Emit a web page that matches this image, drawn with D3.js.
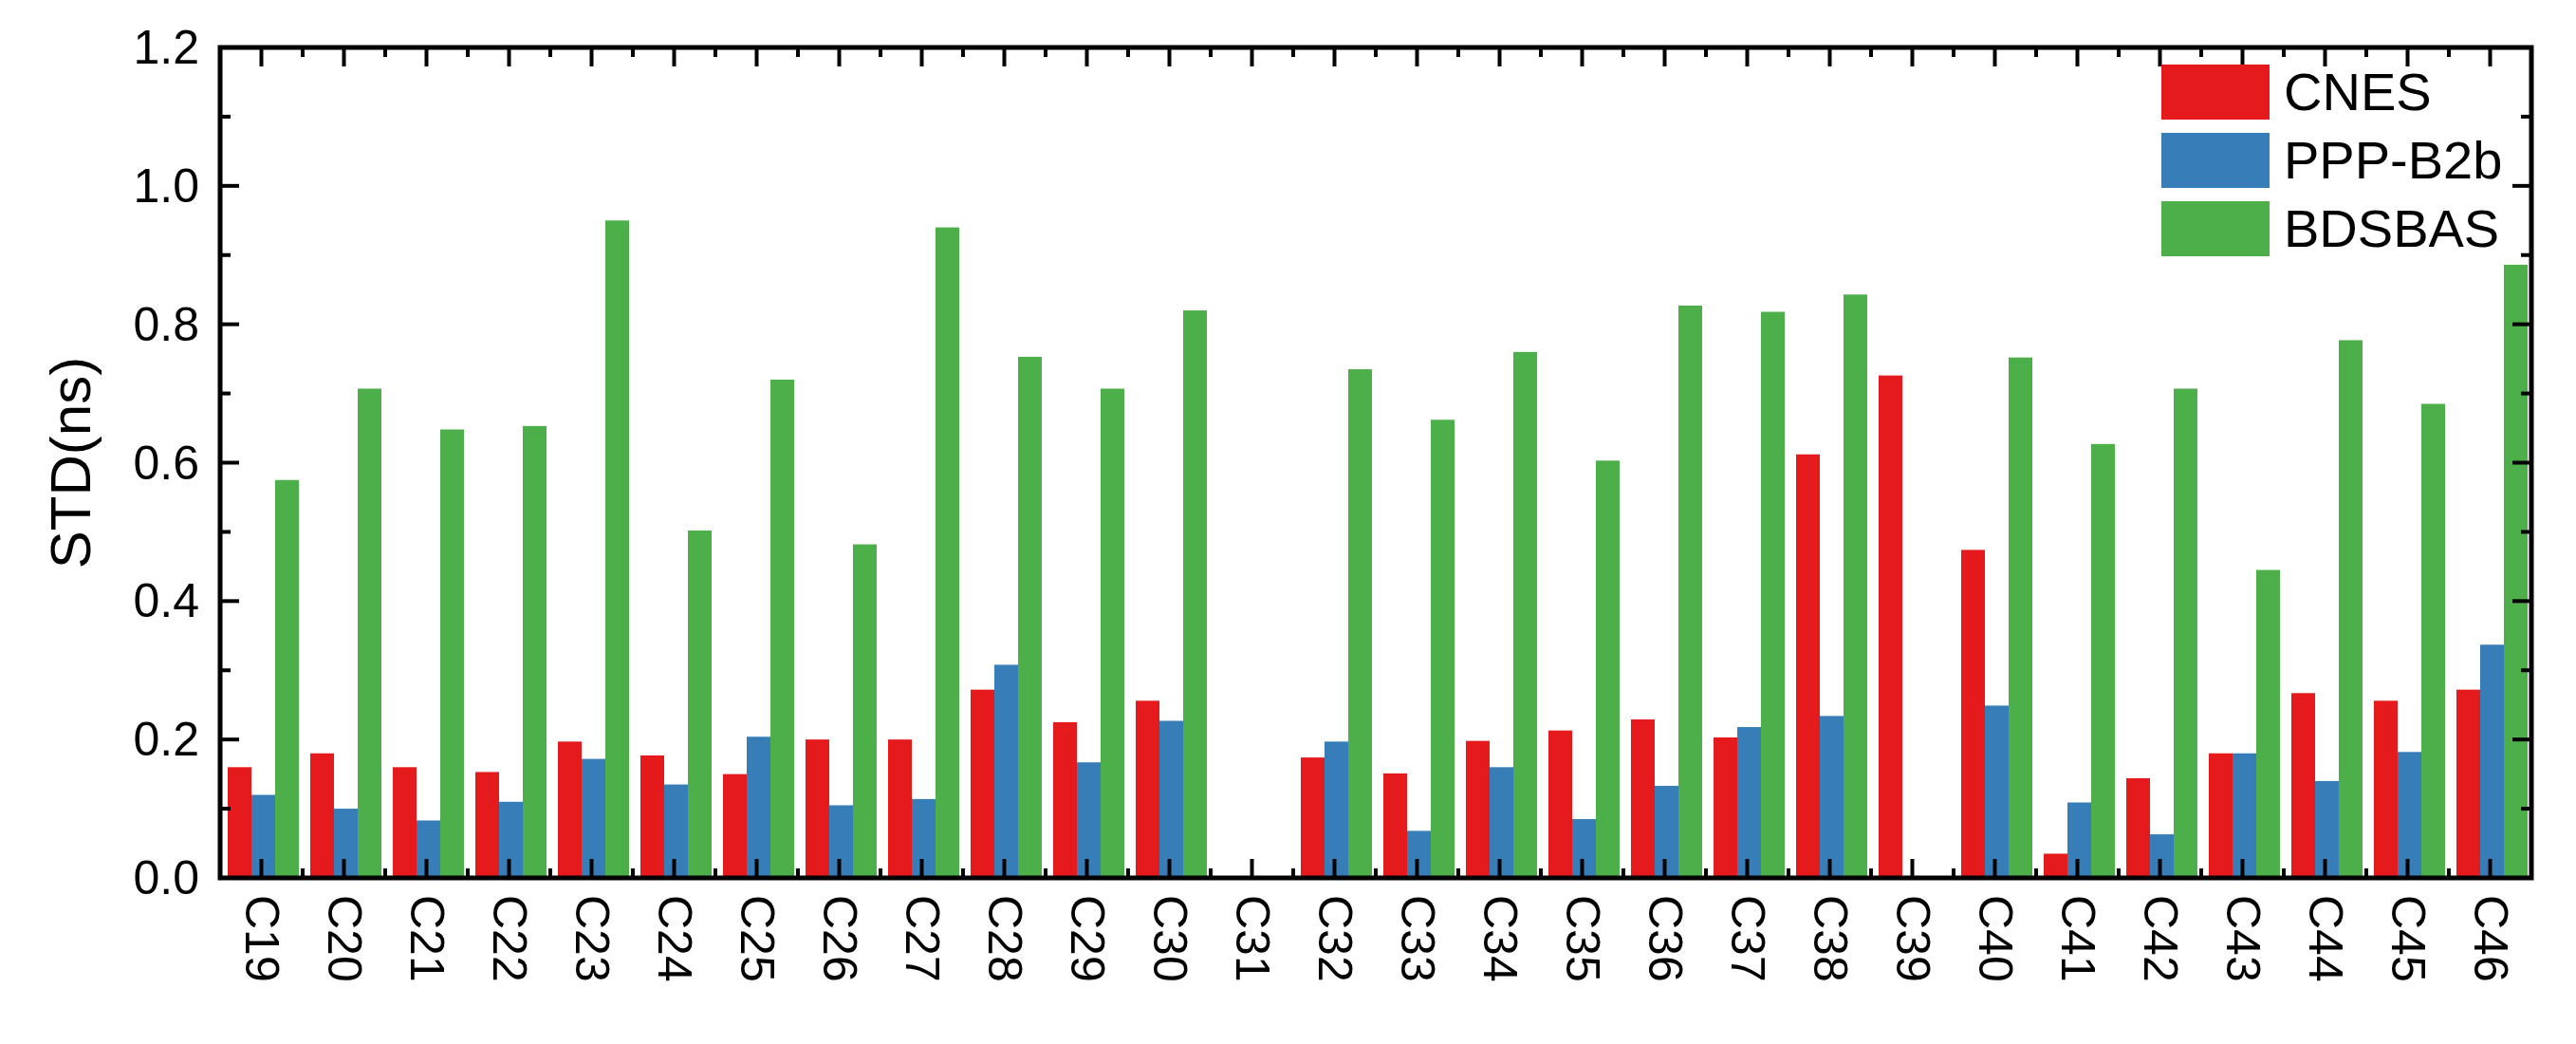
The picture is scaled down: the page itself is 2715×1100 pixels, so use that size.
<!DOCTYPE html>
<html><head><meta charset="utf-8">
<script src="https://cdn.jsdelivr.net/npm/d3@7"></script>
<style>body{margin:0;background:#fff}text{font-family:"Liberation Sans",Arial,sans-serif}</style>
</head><body><svg id="c" width="2715" height="1100"></svg>
<script>
var sats = ["C19","C20","C21","C22","C23","C24","C25","C26","C27","C28","C29","C30","C31","C32","C33","C34","C35","C36","C37","C38","C39","C40","C41","C42","C43","C44","C45","C46"];
var cnes = [0.16,0.18,0.16,0.153,0.197,0.177,0.15,0.20,0.20,0.272,0.225,0.256,null,0.174,0.151,0.198,0.213,0.229,0.203,0.612,0.726,0.474,0.035,0.144,0.18,0.267,0.256,0.272];
var b2b = [0.12,0.10,0.083,0.11,0.172,0.135,0.204,0.105,0.114,0.308,0.167,0.227,null,0.197,0.068,0.16,0.085,0.133,0.218,0.234,null,0.249,0.109,0.063,0.18,0.14,0.182,0.337];
var bdsbas = [0.575,0.707,0.648,0.653,0.95,0.502,0.72,0.482,0.94,0.753,0.707,0.82,null,0.735,0.662,0.76,0.603,0.827,0.818,0.843,null,0.752,0.627,0.707,0.445,0.777,0.685,0.886];
var seriesNames = ["CNES","PPP-B2b","BDSBAS"];
var colors = ["#e41a1c","#377eb8","#4daf4a"];
var yTicks = [0,0.2,0.4,0.6,0.8,1.0,1.2];

var L=232,R=2668,T=50,B=925;
var svg=d3.select("#c");
var x=d3.scaleBand().domain(sats).range([L,R]);
var xs=d3.scaleBand().domain(seriesNames).range([8,x.bandwidth()-4]);
var y=d3.scaleLinear().domain([0,1.2]).range([B,T]);
var all=[cnes,b2b,bdsbas];

all.forEach(function(vals,si){
  svg.append("g").selectAll("rect").data(sats.map(function(s,i){return {s:s,v:vals[i]};}).filter(function(d){return d.v!=null;}))
    .enter().append("rect")
    .attr("x",function(d){return x(d.s)+xs(seriesNames[si]);})
    .attr("width",xs.bandwidth())
    .attr("y",function(d){return y(d.v);})
    .attr("height",function(d){return B-y(d.v);})
    .attr("fill",colors[si]);
});

var g=svg.append("g");
// y ticks
var minor=d3.range(0.1,1.2,0.2);
yTicks.forEach(function(t){
  g.append("line").attr("x1",L).attr("x2",L+20).attr("y1",y(t)).attr("y2",y(t)).attr("stroke","#000").attr("stroke-width",4);
  g.append("line").attr("x1",R).attr("x2",R-20).attr("y1",y(t)).attr("y2",y(t)).attr("stroke","#000").attr("stroke-width",4);
  g.append("text").attr("x",L-22).attr("y",y(t)+17).attr("text-anchor","end").attr("font-size",50).text(d3.format(".1f")(t));
});
minor.forEach(function(t){
  g.append("line").attr("x1",L).attr("x2",L+11).attr("y1",y(t)).attr("y2",y(t)).attr("stroke","#000").attr("stroke-width",4);
  g.append("line").attr("x1",R).attr("x2",R-11).attr("y1",y(t)).attr("y2",y(t)).attr("stroke","#000").attr("stroke-width",4);
});
// x ticks
sats.forEach(function(s,i){
  var cx=x(s)+x.bandwidth()/2;
  g.append("line").attr("x1",cx).attr("x2",cx).attr("y1",B).attr("y2",B-20).attr("stroke","#000").attr("stroke-width",4);
  g.append("line").attr("x1",cx).attr("x2",cx).attr("y1",T).attr("y2",T+20).attr("stroke","#000").attr("stroke-width",4);
  if(i>0){
    g.append("line").attr("x1",x(s)).attr("x2",x(s)).attr("y1",B).attr("y2",B-10).attr("stroke","#000").attr("stroke-width",4);
    g.append("line").attr("x1",x(s)).attr("x2",x(s)).attr("y1",T).attr("y2",T+10).attr("stroke","#000").attr("stroke-width",4);
  }
  g.append("text").attr("transform","translate("+(cx-17)+","+(B+18)+") rotate(90)").attr("font-size",50).text(s);
});
g.append("rect").attr("x",L).attr("y",T).attr("width",R-L).attr("height",B-T).attr("fill","none").attr("stroke","#000").attr("stroke-width",5);
g.append("text").attr("transform","translate(95,"+((T+B)/2)+") rotate(-90)").attr("text-anchor","middle").attr("font-size",60).text("STD(ns)");

// legend
seriesNames.forEach(function(n,i){
  var ly=68+i*72;
  svg.append("rect").attr("x",2278).attr("y",ly).attr("width",114).attr("height",58).attr("fill",colors[i]);
  svg.append("text").attr("x",2407).attr("y",ly+48).attr("font-size",56).text(n);
});
</script></body></html>
